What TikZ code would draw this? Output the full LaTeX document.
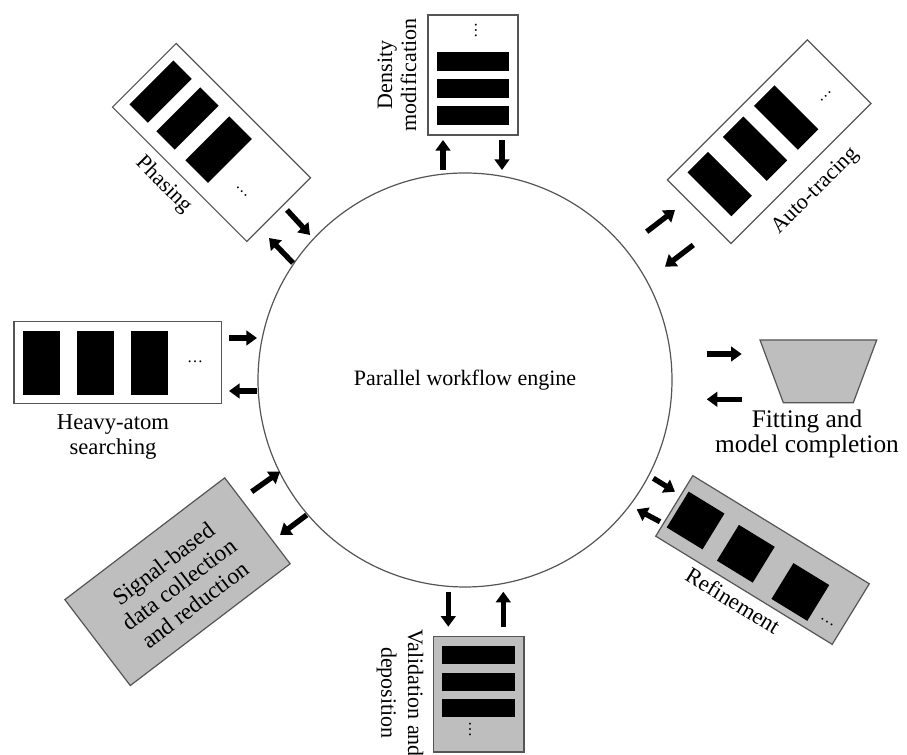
\documentclass[tikz,border=0pt]{standalone}
\usepackage{fontspec}
\setmainfont{Liberation Serif}
\usetikzlibrary{arrows.meta}

\definecolor{panelgray}{RGB}{190,190,190}
\definecolor{edgegray}{RGB}{85,85,85}

\tikzset{
  panel/.style={draw=edgegray, line width=0.9pt, fill=white},
  greypanel/.style={panel, fill=panelgray},
  block/.style={fill=black},
  flow/.style={line width=4pt, -{Triangle[length=8pt,width=11pt]}},
  lbl/.style={font=\fontsize{16.5}{18}\selectfont, align=center, inner sep=0pt},
  more/.style={font=\fontsize{12}{12}\selectfont, inner sep=0pt},
}

\begin{document}
\begin{tikzpicture}[x=0.75pt,y=0.75pt]
  \useasboundingbox (0,0) rectangle (907,755);

  % the engine in the middle
  \node[circle, draw=edgegray, line width=0.9pt, minimum size=310.5pt,
        font=\fontsize{16.5}{18}\selectfont] (engine) at (465,375) {Parallel workflow engine};

  % density modification (top)
  \draw[panel] (428,620) rectangle (518,740);
  \foreach \y in {630,657,684}
    \fill[block] (437,\y) rectangle (509,\y+19);
  \node[more, rotate=90] (dens-dots) at (476,724) {\ldots};
  \node[lbl, rotate=90] (dens-lbl) at (397,680) {Density\\modification};

  % phasing (top left)
  \begin{scope}[shift={(211.5,612.5)}, rotate=-45]
    \draw[panel] (-95,-45) rectangle (95,45);
    \fill[block] (-85,-31) rectangle (-59,31);
    \fill[block] (-47,-31) rectangle (-21,31);
    \fill[block] (-6,-31) rectangle (26,31);
    \node[more, rotate=-45] (phas-dots) at (56,-13) {\ldots};
    \node[lbl, rotate=-45] (phas-lbl) at (-4,-64) {Phasing};
  \end{scope}

  % auto-tracing (top right)
  \begin{scope}[shift={(769.2,613.3)}, rotate=45]
    \draw[panel] (-99,-45) rectangle (99,45);
    \fill[block] (-79.5,-26) rectangle (-50.5,36);
    \fill[block] (-29.5,-26) rectangle (-0.5,36);
    \fill[block] (14.5,-26) rectangle (43.5,36);
    \node[more, rotate=45] (auto-dots) at (72,-8) {\ldots};
    \node[lbl, rotate=45] (auto-lbl) at (-2,-68) {Auto-tracing};
  \end{scope}

  % heavy-atom searching (left)
  \draw[panel] (14,351.7) rectangle (221.7,433.3);
  \foreach \x in {22.7,76.7,130.7}
    \fill[block] (\x,360) rectangle (\x+37,424.3);
  \node[more] (heavy-dots) at (195,393.3) {\ldots};
  \node[lbl, font=\fontsize{17}{18.5}\selectfont] (heavy-lbl) at (113,318) {Heavy-atom\\searching};

  % fitting and model completion (right)
  \filldraw[greypanel] (760,415) -- (876.7,415) -- (853.3,352.3) -- (783.3,352.3) -- cycle;
  \node[lbl, font=\fontsize{19}{17}\selectfont] (fit-lbl) at (807,321) {Fitting and\\model completion};

  % signal-based data collection (bottom left)
  \begin{scope}[shift={(177.5,173.3)}, rotate=37.3]
    \draw[greypanel] (-100.5,-54) rectangle (100.5,54);
    \node[lbl, rotate=37.3, font=\fontsize{17.5}{19.5}\selectfont] (sig-lbl) at (0,-3)
      {Signal-based\\data collection\\and reduction};
  \end{scope}

  % refinement (bottom right)
  \begin{scope}[shift={(762.5,195)}, rotate=-31.5]
    \draw[greypanel] (-103.5,-35.5) rectangle (103.5,35.5);
    \fill[block] (-98.7,-22.3) rectangle (-56.7,19.7);
    \fill[block] (-38.5,-24.4) rectangle (3.5,17.6);
    \fill[block] (28,-28.5) rectangle (70,13.5);
    \node[more, rotate=-31.5] (ref-dots) at (87.5,-19) {\ldots};
    \node[lbl, rotate=-31.5, font=\fontsize{17}{18}\selectfont] (ref-lbl) at (-4,-50) {Refinement};
  \end{scope}

  % validation and deposition (bottom)
  \draw[greypanel] (433.3,3) rectangle (524,118.3);
  \foreach \y in {37.7,64,91}
    \fill[block] (442.3,\y) rectangle (515,\y+18);
  \node[more, rotate=-90] (val-dots) at (470,25) {\ldots};
  \node[lbl, rotate=-90, font=\fontsize{16.5}{20}\selectfont] (val-lbl) at (400,62) {Validation and\\deposition};

  % arrows between engine and modules
  \foreach \nm/\ax/\ay/\bx/\by in {
      dens-up/443/585/443/615, dens-dn/502/615/502/585,
      phas-in/287/545/310/520, phas-out/293/492/269/517,
      auto-out/646.7/523.3/675/545, auto-in/693.3/510/665/488.3,
      heavy-in/229/417/257/417, heavy-out/257/364/229/364,
      fit-out/706.7/401/741.7/401, fit-in/741.7/355.7/706.7/355.7,
      sig-in/251.7/263.3/280/283.3, sig-out/306.7/240/280/220,
      val-dn/448.3/163.3/448.3/128.3, val-up/503.3/128.3/503.3/163.3,
      ref-out/653.3/276.7/675/263.3, ref-in/660/233.3/636.7/245.7}
  {
    \coordinate (\nm-a) at (\ax,\ay);
    \coordinate (\nm-b) at (\bx,\by);
    \draw[flow] (\nm-a) -- (\nm-b);
  }
\end{tikzpicture}
\end{document}
